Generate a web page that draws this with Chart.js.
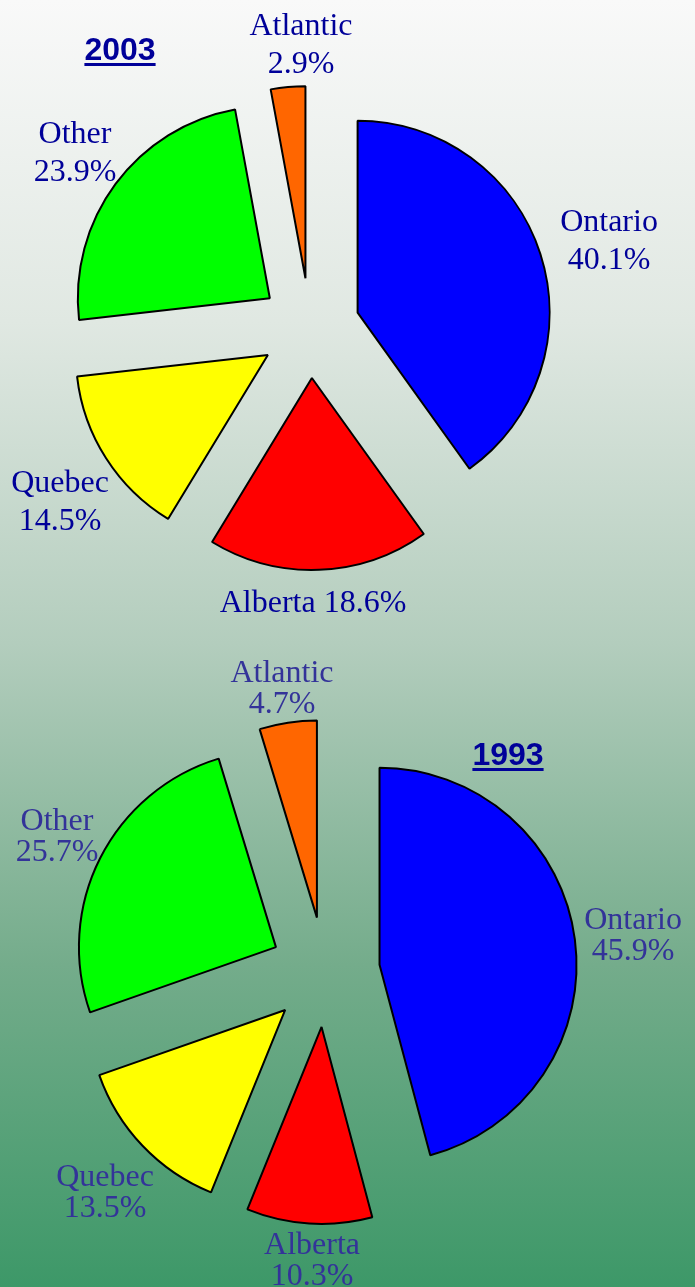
<!DOCTYPE html>
<html>
<head>
<meta charset="utf-8">
<script src="https://cdn.jsdelivr.net/npm/chart.js@4.4.0/dist/chart.umd.min.js"></script>
<style>
  html, body { margin: 0; padding: 0; }
  body {
    width: 695px; height: 1287px; overflow: hidden; position: relative;
    background: linear-gradient(to bottom, #f9f9f9 0%, #e0e8e2 25%, #b3cdbd 50%, #74ac8b 75%, #3d9868 100%);
  }
  canvas { position: absolute; left: 0; }
  #pie2003 { top: 0; }
  #pie1993 { top: 640px; }
</style>
</head>
<body>
<canvas id="pie2003" width="695" height="640"></canvas>
<canvas id="pie1993" width="695" height="647"></canvas>
<script>
// Data
const regions = ['Ontario', 'Alberta', 'Quebec', 'Other', 'Atlantic'];
const share2003 = [40.1, 18.6, 14.5, 23.9, 2.9];
const share1993 = [45.9, 10.3, 13.5, 25.7, 4.7];
const regionColors = ['#0000ff', '#ff0000', '#ffff00', '#00ff00', '#ff6600'];

// label text, one entry per line
const labels2003 = regions.map((r, i) => r === 'Alberta'
    ? [r + ' ' + share2003[i].toFixed(1) + '%']
    : [r, share2003[i].toFixed(1) + '%']);
const labels1993 = regions.map((r, i) => [r, share1993[i].toFixed(1) + '%']);

// label placement (page coords, centre of first line)
const labelPos2003 = [[609, 220], [313, 601], [60, 481], [75, 132], [301, 24]];
const labelPos1993 = [[633, 918], [312, 1243], [105, 1175], [57, 819], [282, 671]];

// pull every slice out from the centre along its mid angle
const explode = {
    id: 'explode',
    beforeDatasetsDraw(chart, args, opts) {
        const area = chart.chartArea;
        const cx = (area.left + area.right) / 2;
        const cy = (area.top + area.bottom) / 2;
        chart.getDatasetMeta(0).data.forEach(arc => {
            const mid = (arc.startAngle + arc.endAngle) / 2;
            arc.x = cx + Math.cos(mid) * opts.distance;
            arc.y = cy + Math.sin(mid) * opts.distance;
        });
    }
};

const pieText = {
    id: 'pieText',
    afterDraw(chart, args, opts) {
        const ctx = chart.ctx;
        ctx.save();
        ctx.fillStyle = opts.color;
        ctx.font = '32px "Liberation Serif", "Times New Roman", serif';
        ctx.textAlign = 'center';
        ctx.textBaseline = 'alphabetic';
        opts.lines.forEach((lines, i) => {
            const x = opts.positions[i][0];
            const y = opts.positions[i][1] - opts.top;
            lines.forEach((t, k) => ctx.fillText(t, x, y + 11 + k * opts.lineGap));
        });
        // underlined year title
        ctx.fillStyle = '#000099';
        ctx.font = 'bold 32px "Liberation Sans", Arial, sans-serif';
        const tx = opts.title.x, ty = opts.title.y - opts.top;
        ctx.fillText(opts.title.text, tx, ty + 11);
        const w = ctx.measureText(opts.title.text).width;
        ctx.fillRect(tx - w / 2, ty + 14, w, 3);
        ctx.restore();
    }
};

function makePie(id, values, distance, padding, lines, positions, lineGap, color, top, title) {
    return new Chart(document.getElementById(id), {
        type: 'pie',
        data: {
            labels: regions,
            datasets: [{
                data: values,
                backgroundColor: regionColors,
                borderColor: '#000000',
                borderWidth: 2,
                hoverOffset: 0
            }]
        },
        options: {
            responsive: false,
            animation: false,
            events: [],
            layout: { padding: padding },
            plugins: {
                legend: { display: false },
                tooltip: { enabled: false },
                explode: { distance: distance },
                pieText: { lines: lines, positions: positions, lineGap: lineGap, color: color, top: top, title: title }
            }
        },
        plugins: [explode, pieText]
    });
}

makePie('pie2003', share2003, 50,
    { left: 117, right: 192, top: 135, bottom: 119 },
    labels2003, labelPos2003, 38, '#000099', 0, { text: '2003', x: 120, y: 49 });

makePie('pie1993', share1993, 55,
    { left: 127, right: 172, top: 134, bottom: 117 },
    labels1993, labelPos1993, 31, '#333399', 640, { text: '1993', x: 508, y: 754 });
</script>
</body>
</html>
